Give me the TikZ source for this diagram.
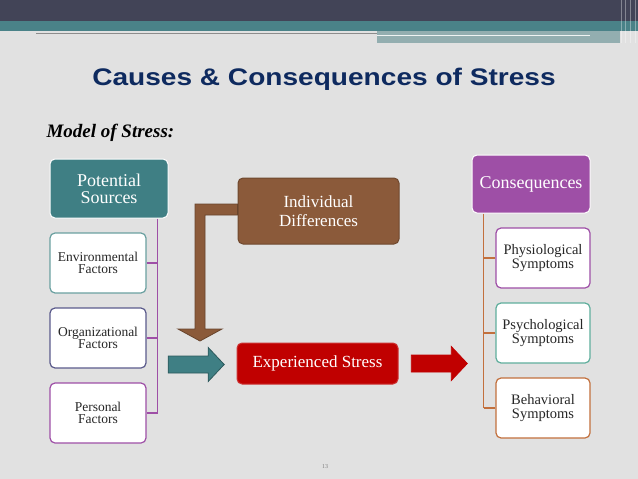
\documentclass[tikz,border=0pt]{standalone}
\usepackage{fontspec}
\setmainfont{Liberation Serif}
\newfontfamily\titlefont[FakeStretch=1.17]{Liberation Sans}
\usetikzlibrary{arrows.meta,calc,positioning}
\definecolor{slidebg}{RGB}{225,225,225}
\definecolor{bandgrey}{RGB}{66,68,87}
\definecolor{bandteal}{RGB}{74,130,136}
\definecolor{bandpale}{RGB}{147,174,176}
\definecolor{titleblue}{RGB}{14,42,95}
\definecolor{stteal}{RGB}{63,127,132}
\definecolor{stpurple}{RGB}{158,79,166}
\definecolor{stbrown}{RGB}{139,90,58}
\definecolor{stred}{RGB}{192,0,0}
\definecolor{stslate}{RGB}{91,91,140}
\definecolor{stmint}{RGB}{95,174,156}
\definecolor{storange}{RGB}{194,112,61}
\definecolor{stpale}{RGB}{106,160,160}
\newcommand{\busleaves}[4]{%
  \foreach \leaf in {#4}{\draw[draw=#2,line width=1.4pt] (\leaf.#3) -- (\leaf.#3 -| #1);}
}
\newcommand{\blockarrow}[3]{%
  \filldraw[fill=#2,draw=#3,line width=.8pt,line join=miter] ($(#1)+(-28,-8.5)$) -- ++(40,0)
    -- ++(0,-8.5) -- ++(16,17) -- ++(-16,17) -- ++(0,-8.5) -- ++(-40,0) -- cycle;
}

\begin{document}
\begin{tikzpicture}[x=1pt,y=-1pt,
    head/.style={rounded corners=5pt,draw=white,line width=1pt,text=white,align=center,
      font=\fontsize{18}{17}\selectfont,minimum width=118pt,minimum height=59pt,inner sep=2pt},
    leaf/.style={rounded corners=5pt,fill=white,line width=1.2pt,text=black!85,align=center,
      font=\fontsize{13.5}{12}\selectfont,minimum width=96pt,minimum height=60pt,inner sep=2pt},
    mid/.style={rounded corners=5pt,line width=1pt,text=white,align=center,
      font=\fontsize{17}{19}\selectfont,minimum width=161pt}]
    \useasboundingbox (0,0) rectangle (638,479);
    \fill[slidebg] (0,0) rectangle (638,479);
    \fill[bandgrey] (0,0) rectangle (638,21);
    \fill[bandteal] (0,21) rectangle (638,31);
    \fill[bandpale] (377,31) rectangle (620,43);
    \draw[black!45,line width=1pt] (36,33) -- (377,33);
    \draw[white!85!bandpale,line width=.8pt] (377,35) -- (590,35);
    \foreach \x in {621,625,630,635}{\draw[white,opacity=.35,line width=.8pt] (\x,0) -- (\x,43);}
    \node[anchor=base,font=\titlefont\bfseries\fontsize{24}{24}\selectfont,text=titleblue]
      (title) at (324,85) {Causes \& Consequences of Stress};
    \node[anchor=base west,font=\bfseries\itshape\fontsize{19}{19}\selectfont]
      (model) at (43,137) {Model of Stress:};
    \node[head,fill=stteal] (src) at (109,188.5) {Potential\\Sources};
    \node[leaf,draw=stpale] (env) at (98,263) {Environmental\\Factors};
    \node[leaf,draw=stslate] (org) at (98,338) {Organizational\\Factors};
    \node[leaf,draw=stpurple] (per) at (98,413) {Personal\\Factors};
    \node[mid,fill=stbrown,draw=stbrown!80!black,minimum height=66pt] (diff) at (318.5,211) {Individual\\Differences};
    \node[mid,fill=stred,draw=stred!80!white,minimum height=41pt] (stress) at (317.5,363.5) {Experienced Stress};
    \node[head,fill=stpurple,minimum height=58pt] (con) at (531,184) {Consequences};
    \node[leaf,draw=stpurple,minimum width=94pt,font=\fontsize{14.5}{13.5}\selectfont] (phys) at (543,258) {Physiological\\Symptoms};
    \node[leaf,draw=stmint,minimum width=94pt,font=\fontsize{14.5}{13.5}\selectfont] (psych) at (543,333) {Psychological\\Symptoms};
    \node[leaf,draw=storange,minimum width=94pt,font=\fontsize{14.5}{13.5}\selectfont] (behav) at (543,408) {Behavioral\\Symptoms};
    \path (src.south east) ++(-11,0) coordinate (srcbus);
    \path (con.south west) ++(12,0) coordinate (conbus);
    \draw[draw=stpurple,line width=1.4pt] (srcbus) -- (srcbus |- per.east);
    \busleaves{srcbus}{stpurple}{east}{env,org,per}
    \draw[draw=storange,line width=1.4pt] (conbus) -- (conbus |- behav.west);
    \busleaves{conbus}{storange}{west}{phys,psych,behav}
    \coordinate (inarrow) at ($(srcbus |- stress.west)!.49!(stress.west)+(0,1)$);
    \coordinate (outarrow) at ($(stress.east)!.48!(conbus |- stress.east)$);
    \blockarrow{inarrow}{stteal}{stteal!70!black}
    \blockarrow{outarrow}{stred}{stred}
    \coordinate (difftip) at (200,341);
    \filldraw[fill=stbrown,draw=stbrown!75!black,line width=.8pt,line join=miter]
      ($(diff.west)+(0,-7)$) -| ($(difftip)+(-5,-12)$) -- ++(-17,0) -- (difftip)
      -- ++(22,-12) -- ++(-17,0) |- ($(diff.west)+(0,4)$) -- cycle;
    \node[font=\fontsize{6}{6}\selectfont,text=black!50] (pagenum) at (325,467) {13};
\end{tikzpicture}
\end{document}
